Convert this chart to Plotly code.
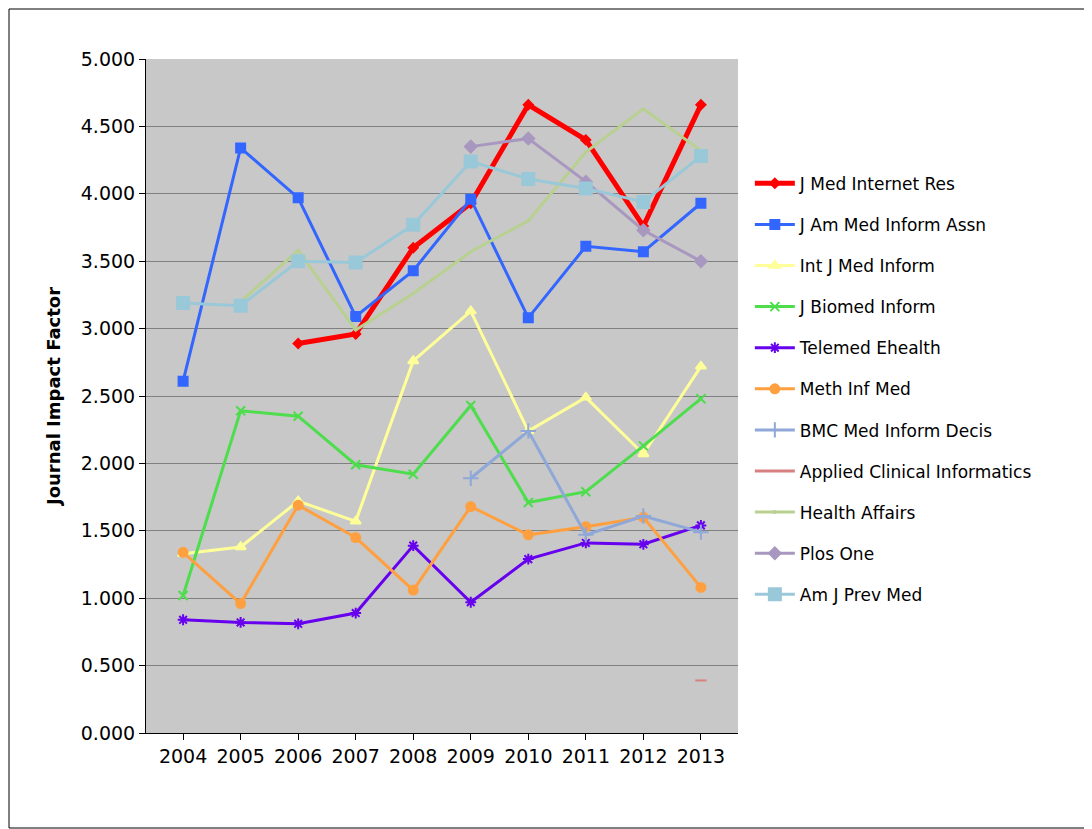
import plotly.graph_objects as go

years = ["2004","2005","2006","2007","2008","2009","2010","2011","2012","2013"]
jmir = [None,None,2.89,2.96,3.60,3.93,4.66,4.40,3.76,4.66]
jamia = [2.61,4.34,3.97,3.09,3.43,3.96,3.08,3.61,3.57,3.93]
ijmi = [1.33,1.38,1.72,1.57,2.76,3.13,2.24,2.49,2.07,2.72]
jbi = [1.02,2.39,2.35,1.99,1.92,2.43,1.71,1.79,2.13,2.48]
telemed = [0.84,0.82,0.81,0.89,1.39,0.97,1.29,1.41,1.40,1.54]
meth = [1.34,0.96,1.69,1.45,1.06,1.68,1.47,1.53,1.60,1.08]
bmc = [None,None,None,None,None,1.89,2.24,1.47,1.61,1.49]
aci = [None,None,None,None,None,None,None,None,None,0.39]
health = [None,3.20,3.58,2.99,3.26,3.57,3.80,4.31,4.63,4.32]
plos = [None,None,None,None,None,4.35,4.41,4.09,3.73,3.50]
ajpm = [3.19,3.17,3.50,3.49,3.77,4.24,4.11,4.04,3.94,4.28]

series = [
    ("J Med Internet Res", jmir, "#ff0000", "diamond", 7, 5),
    ("J Am Med Inform Assn", jamia, "#3366ff", "square", 9, 3),
    ("Int J Med Inform", ijmi, "#ffff99", "triangle-up", 9, 3),
    ("J Biomed Inform", jbi, "#4ddd4d", "x-thin", 9, 3),
    ("Telemed Ehealth", telemed, "#6600ee", "asterisk", 9, 3),
    ("Meth Inf Med", meth, "#ffa040", "circle", 9, 3),
    ("BMC Med Inform Decis", bmc, "#8fa8d8", "cross-thin", 11, 3),
    ("Applied Clinical Informatics", aci, "#d88080", "line-ew", 8, 3),
    ("Health Affairs", health, "#b8d090", "circle", 1, 3),
    ("Plos One", plos, "#a898c0", "diamond", 9, 3),
    ("Am J Prev Med", ajpm, "#99c8d8", "square", 12, 3),
]

fig = go.Figure()
for i, (name, vals, col, sym, size, w) in enumerate(series):
    fig.add_trace(go.Scatter(
        x=years, y=vals, name=name, mode="lines+markers", legendgroup=str(i),
        line=dict(color=col, width=w),
        marker=dict(symbol=sym, size=size, color=col, line=dict(color=col, width=2)),
        connectgaps=False))

fig.update_layout(
    width=1084, height=821, paper_bgcolor="white", plot_bgcolor="#c8c8c8",
    margin=dict(l=138, r=354, t=51, b=96),
    font=dict(family="DejaVu Sans", size=18, color="black"),
    showlegend=True,
    legend=dict(x=1.02, y=0.51, yanchor="middle", bgcolor="rgba(0,0,0,0)",
                font=dict(size=17), traceorder="grouped", tracegroupgap=16, itemwidth=40),
    xaxis=dict(showgrid=False, showline=True, linecolor="black", ticks="outside",
               ticklen=6, tickcolor="black", tickfont=dict(size=19)),
    yaxis=dict(range=[0, 5], dtick=0.5, tickformat=".3f", showgrid=True,
               gridcolor="#808080", gridwidth=1, showline=True, linecolor="black",
               ticks="outside", tickcolor="black", ticklen=6, tickfont=dict(size=19),
               title=dict(text="<b>Journal Impact Factor</b>", font=dict(size=18))),
    shapes=[dict(type="rect", xref="paper", yref="paper",
                 x0=-137/592, x1=(1083-138)/592, y0=-95/674, y1=(674+50)/674,
                 line=dict(color="black", width=1))],
)
fig.write_html("out.html")
